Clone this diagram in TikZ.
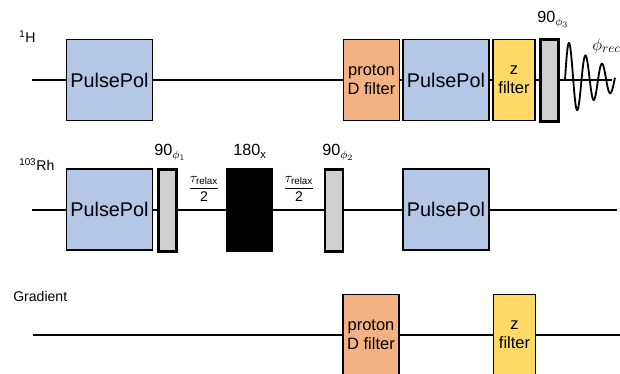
\documentclass[tikz,border=0pt]{standalone}
\usepackage{amsmath}
\usepackage{fontspec}
\setmainfont{Liberation Sans}
\usepackage{tikz}
\usetikzlibrary{positioning,backgrounds}
\pgfdeclarelayer{background}
\pgfsetlayers{background,main}
\usepackage{xcolor}
\definecolor{pulsepolblue}{RGB}{180,199,231}
\definecolor{dfilterorange}{RGB}{244,177,131}
\definecolor{zfilteryellow}{RGB}{255,217,102}
\definecolor{hardgray}{RGB}{208,206,206}

\begin{document}
\begin{tikzpicture}[
  x=0.025cm, y=-0.025cm,
  every node/.style={font=\fontsize{10}{12}\selectfont},
  pulsepol/.style={draw, line width=1.1pt, fill=pulsepolblue,
    minimum width=2.14cm, minimum height=2.02cm, inner sep=1pt,
    font=\fontsize{14.1}{16}\selectfont},
  dfilter/.style={draw, line width=1.1pt, fill=dfilterorange,
    minimum width=1.39cm, minimum height=2.02cm, inner sep=1pt,
    align=center, font=\fontsize{11.7}{13.5}\selectfont},
  zfilter/.style={draw, line width=1.1pt, fill=zfilteryellow,
    minimum width=1.04cm, minimum height=2.02cm, inner sep=1pt,
    align=center, font=\fontsize{11.7}{13.5}\selectfont},
  hard/.style={draw, line width=2.1pt, fill=hardgray,
    minimum width=0.45cm, minimum height=2.05cm, inner sep=0pt},
  inversion/.style={fill=black, minimum width=1.175cm,
    minimum height=2.1cm, inner sep=0pt},
  chan/.style={anchor=base west, inner sep=0pt},
  plabel/.style={anchor=base west, inner sep=0pt,
    font=\fontsize{11.5}{13}\selectfont},
  wire/.style={line width=1.3pt},
]
\useasboundingbox (0,0) rectangle (620,374);

% 1H channel
\node[pulsepol] at (109.5, 80) (ppH1) {PulsePol};
\node[dfilter]  at (371.5, 80) (dfH)  {proton\\D filter};
\node[pulsepol] at (446.0, 80) (ppH2) {PulsePol};
\node[zfilter]  at (514.0, 80) (zfH)  {z\\filter};
\node[hard]     at (549.5, 80.5) (p3) {};

% 103Rh channel
\node[pulsepol]  at (109.5, 209.5) (ppRh1) {PulsePol};
\node[hard]      at (167.5, 210.5) (p1)    {};
\node[inversion] at (249.5, 210)   (inv)   {};
\node[hard]      at (334.0, 210.5) (p2)    {};
\node[pulsepol]  at (446.0, 209.5) (ppRh2) {PulsePol};

% gradient channel
\node[dfilter] at (371.0, 335) (dfG) {proton\\D filter};
\node[zfilter] at (514.5, 335) (zfG) {z\\filter};

% channel labels
\node[chan] at (19, 43)  (labH)  {\textsuperscript{1}H};
\node[chan] at (19, 171) (labRh) {\textsuperscript{103}Rh};
\node[chan] at (13, 302) (labG)  {Gradient};

% pulse labels and delays
\node[plabel] at (154, 156) (lab90a) {90$_{\phi_1}$};
\node[plabel] at (233, 156) (lab180) {180\textsubscript{x}};
\node[plabel] at (322, 156) (lab90b) {90$_{\phi_2}$};
\node[plabel] at (537, 23)  (lab90c) {90$_{\phi_3}$};
\node at (204, 189) (tau1) {$\displaystyle\frac{\tau_{\text{relax}}}{\text{2}}$};
\node at (299, 189) (tau2) {$\displaystyle\frac{\tau_{\text{relax}}}{\text{2}}$};
\node[anchor=west, inner sep=0pt, font=\fontsize{13}{15}\selectfont]
  at (592, 46) (rec) {$\phi_{rec}$};

\coordinate (Hstart)  at (32, 80);
\coordinate (Hend)    at (612, 80);
\coordinate (Rhstart) at (32, 210);
\coordinate (Rhend)   at (617, 210);
\coordinate (Gstart)  at (33, 335);
\coordinate (Gend)    at (620, 335);

\begin{pgfonlayer}{background}
\draw[wire] (Hstart)  -- (Hend);
\draw[wire] (Rhstart) -- (Rhend);
\draw[wire] (Gstart)  -- (Gend);
\end{pgfonlayer}

% FID
\draw[wire] plot[domain=0:50, samples=160, smooth]
  ({565+\x}, {80-41*exp(-\x/40)*sin(21.82*\x)});
\end{tikzpicture}
\end{document}
